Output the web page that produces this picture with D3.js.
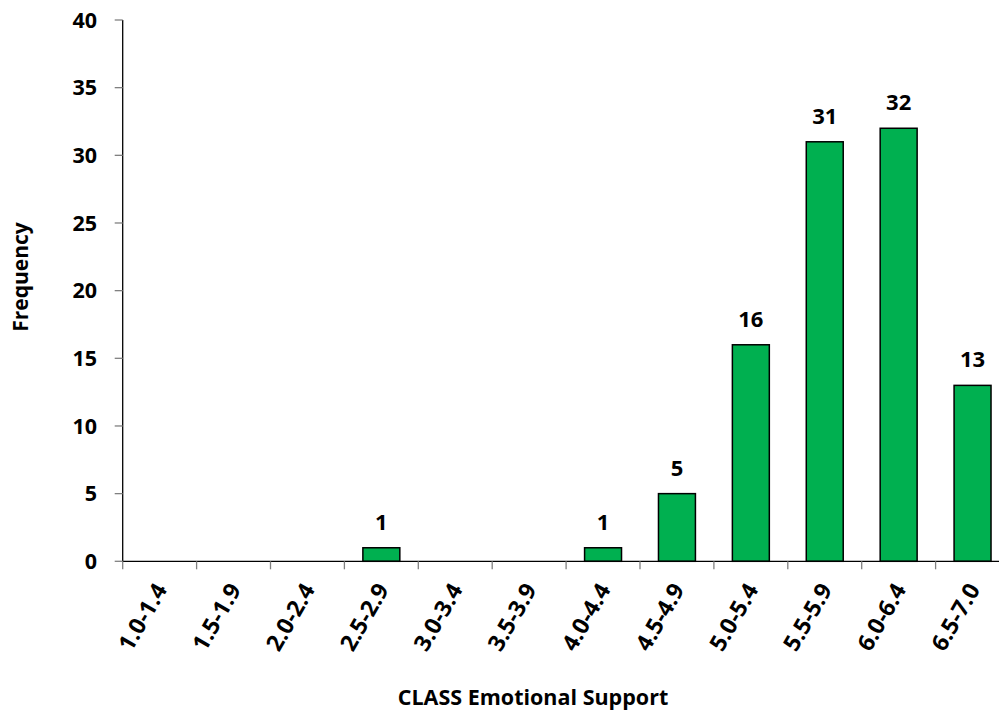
<!DOCTYPE html>
<html><head><meta charset="utf-8">
<script src="https://cdn.jsdelivr.net/npm/d3@7"></script>
<style>body{margin:0;background:#fff;} text{font-family:"Open Sans",sans-serif;font-weight:bold;fill:#000;}</style>
</head><body><svg id="c" width="999" height="725"></svg>
<script>
const categories = ["1.0-1.4","1.5-1.9","2.0-2.4","2.5-2.9","3.0-3.4","3.5-3.9","4.0-4.4","4.5-4.9","5.0-5.4","5.5-5.9","6.0-6.4","6.5-7.0"];
const frequencies = [0,0,0,1,0,0,1,5,16,31,32,13];
const yTicks = [0,5,10,15,20,25,30,35,40];
const xTitle = "CLASS Emotional Support";
const yTitle = "Frequency";

(function(){
const svg = d3.select("#c");
const pLeft = 122.7, step = 73.9, pTop = 20, pBottom = 561.3;
const x = d3.scaleBand().domain(categories).range([pLeft, pLeft + step*categories.length]).padding(0);
const y = d3.scaleLinear().domain([0,40]).range([pBottom, pTop]);

// y axis
svg.append("line").attr("x1",pLeft).attr("x2",pLeft).attr("y1",pTop).attr("y2",pBottom).attr("stroke","#000").attr("stroke-width",1.3);
yTicks.forEach(t=>{
  svg.append("line").attr("x1",pLeft-8).attr("x2",pLeft).attr("y1",y(t)).attr("y2",y(t)).attr("stroke","#808080").attr("stroke-width",1.3);
  svg.append("text").attr("x",97).attr("y",y(t)).attr("dy","0.36em").attr("text-anchor","end").attr("font-size",21.5).text(t);
});

// bars
const bw = x.bandwidth()*0.5;
categories.forEach((c,i)=>{
  const v = frequencies[i];
  if(v>0){
    svg.append("rect").attr("x",x(c)+x.bandwidth()*0.25).attr("width",bw)
      .attr("y",y(v)).attr("height",y(0)-y(v))
      .attr("fill","#00B050").attr("stroke","#000").attr("stroke-width",1.5);
    svg.append("text").attr("x",x(c)+x.bandwidth()/2).attr("y",y(v)-18).attr("text-anchor","middle").attr("font-size",22).text(v);
  }
});

// x axis
svg.append("line").attr("x1",pLeft).attr("x2",999).attr("y1",pBottom).attr("y2",pBottom).attr("stroke","#000").attr("stroke-width",1.3);
categories.forEach((c,i)=>{
  svg.append("line").attr("x1",x(c)).attr("x2",x(c)).attr("y1",pBottom).attr("y2",pBottom+8).attr("stroke","#808080").attr("stroke-width",1.3);
  const cx = x(c)+x.bandwidth()/2;
  svg.append("text").attr("transform",`translate(${cx+1},${pBottom+24}) rotate(-60)`).attr("text-anchor","end").attr("dy","0.36em").attr("font-size",23).text(c);
});

svg.append("text").attr("x",533).attr("y",705).attr("text-anchor","middle").attr("font-size",21.5).text(xTitle);
svg.append("text").attr("transform","translate(28,277) rotate(-90)").attr("text-anchor","middle").attr("font-size",21).text(yTitle);
})();
</script></body></html>
